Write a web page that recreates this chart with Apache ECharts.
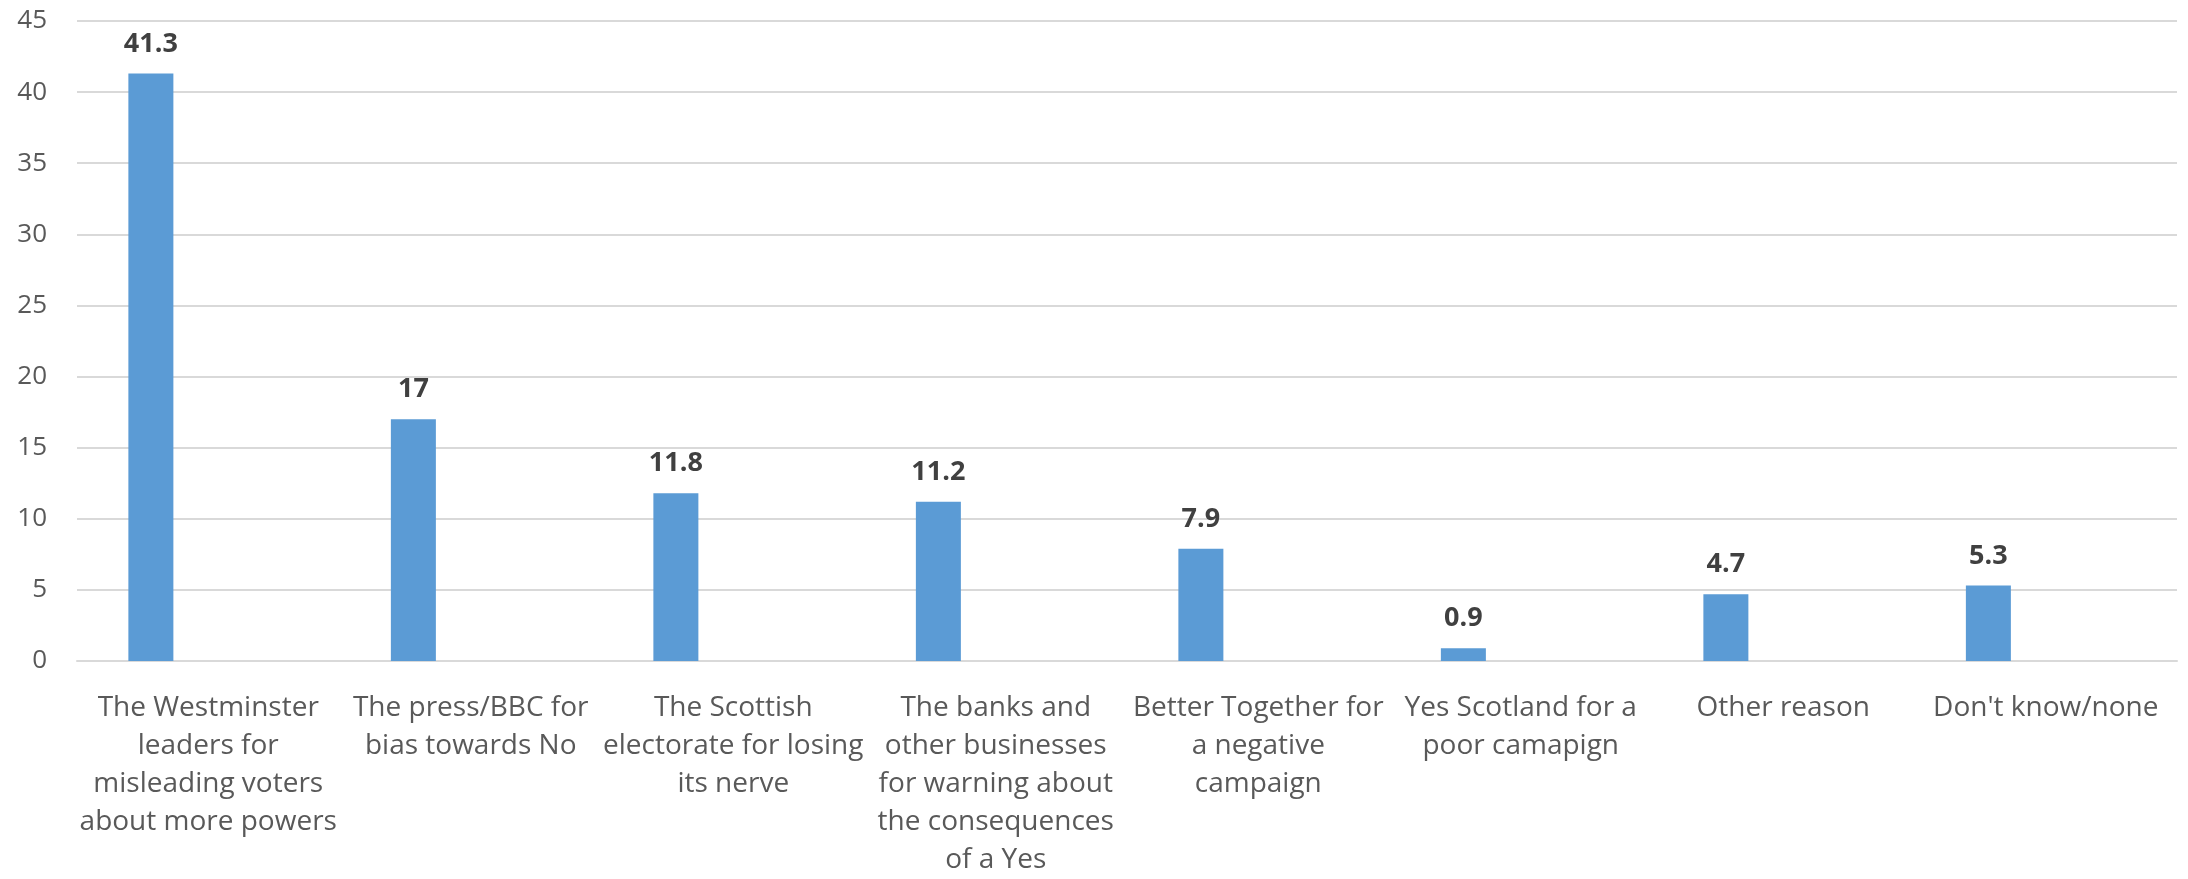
<!DOCTYPE html>
<html><head><meta charset="utf-8">
<script src="https://cdn.jsdelivr.net/npm/echarts@6/dist/echarts.min.js"></script>
<style>html,body{margin:0;padding:0;background:#fff;overflow:hidden}#c{width:2188px;height:879px}</style>
</head><body><div id="c"></div>
<script>
const categories = [
  "The Westminster\nleaders for\nmisleading voters\nabout more powers",
  "The press/BBC for\nbias towards No",
  "The Scottish\nelectorate for losing\nits nerve",
  "The banks and\nother businesses\nfor warning about\nthe consequences\nof a Yes",
  "Better Together for\na negative\ncampaign",
  "Yes Scotland for a\npoor camapign",
  "Other reason",
  "Don't know/none"
];
const values = [41.3, 17, 11.8, 11.2, 7.9, 0.9, 4.7, 5.3];
const emptySeries = [null, null, null, null, null, null, null, null];
const yTicks = { min: 0, max: 45, interval: 5 };

const chart = echarts.init(document.getElementById('c'), null, { renderer: 'canvas' });
const font = "'Open Sans', 'Noto Sans', sans-serif";
chart.setOption({
  animation: false,
  grid: { left: 77, right: 11, top: 21, bottom: 210, containLabel: false },
  xAxis: {
    type: 'category', data: categories,
    axisLine: { show: true, lineStyle: { color: '#D9D9D9', width: 2 } },
    axisTick: { show: false },
    axisLabel: { interval: 0, color: '#595959', fontSize: 28, fontFamily: font, lineHeight: 38, margin: 28 }
  },
  yAxis: {
    type: 'value', min: yTicks.min, max: yTicks.max, interval: yTicks.interval,
    axisLine: { show: false }, axisTick: { show: false },
    splitLine: { lineStyle: { color: '#D9D9D9', width: 2 } },
    axisLabel: { color: '#595959', fontSize: 26, fontFamily: font, margin: 30 }
  },
  series: [
    {
      type: 'bar', data: values, barWidth: 45, barGap: '155%',
      itemStyle: { color: '#5B9BD5' },
      label: { show: true, position: 'top', distance: 16, color: '#404040', fontWeight: 'bold', fontSize: 27, fontFamily: font }
    },
    { type: 'bar', data: emptySeries, barWidth: 45 }
  ]
});
</script></body></html>
